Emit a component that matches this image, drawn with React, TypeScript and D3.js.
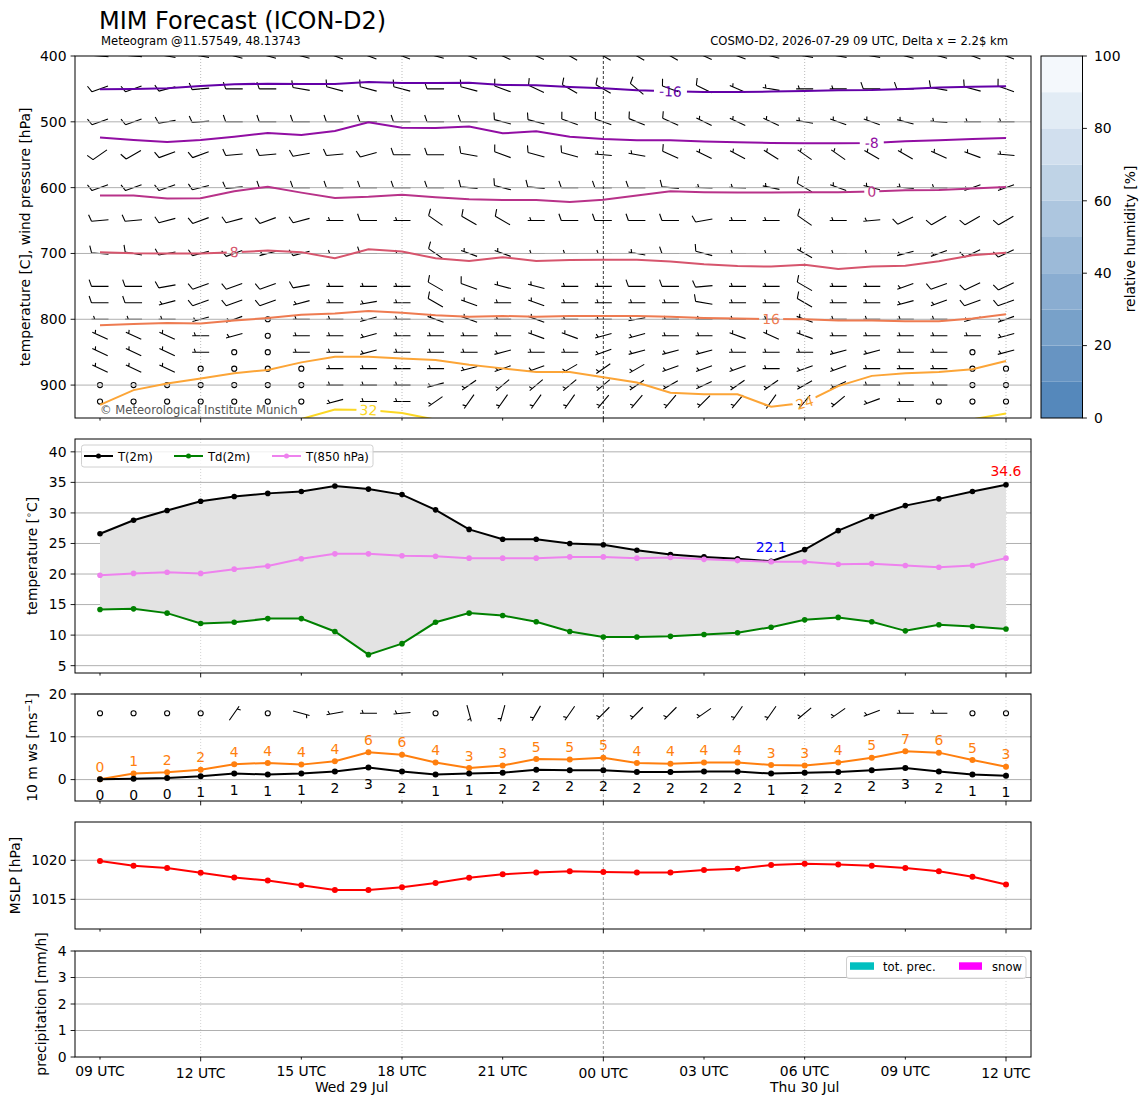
import * as d3 from 'd3';
import React from 'react';

// forecast run, hourly steps
const runStart = new Date(Date.UTC(2026, 6, 29, 9));

// 2 m temperature, dew point and 850 hPa temperature [C]
const t2m = [26.6, 28.8, 30.4, 31.9, 32.7, 33.2, 33.5, 34.4, 33.9, 33.0, 30.5, 27.3, 25.7, 25.7, 25.0, 24.8, 23.9, 23.2, 22.8, 22.5, 22.1, 24.0, 27.1, 29.4, 31.2, 32.3, 33.5, 34.6];
const td2m = [14.2, 14.3, 13.6, 11.9, 12.1, 12.7, 12.7, 10.6, 6.8, 8.6, 12.1, 13.6, 13.2, 12.2, 10.6, 9.7, 9.7, 9.8, 10.1, 10.4, 11.3, 12.5, 12.9, 12.2, 10.7, 11.7, 11.4, 11.0];
const t850 = [19.8, 20.1, 20.3, 20.1, 20.8, 21.3, 22.5, 23.3, 23.3, 23.0, 22.9, 22.6, 22.6, 22.6, 22.8, 22.8, 22.6, 22.7, 22.4, 22.2, 22.0, 22.0, 21.6, 21.7, 21.4, 21.1, 21.4, 22.6];

// 10 m wind speed / gusts [m/s], direction [deg]
const ws10 = [0.1, 0.2, 0.4, 0.8, 1.4, 1.2, 1.4, 1.9, 2.8, 1.9, 1.2, 1.4, 1.6, 2.3, 2.2, 2.2, 1.8, 1.8, 1.9, 1.9, 1.4, 1.6, 1.8, 2.2, 2.7, 1.9, 1.2, 0.9];
const gust10 = [0.1, 1.4, 1.7, 2.3, 3.6, 3.9, 3.5, 4.3, 6.4, 5.8, 4.0, 2.7, 3.3, 4.8, 4.7, 5.1, 3.9, 3.7, 4.0, 4.0, 3.4, 3.3, 4.0, 5.1, 6.6, 6.3, 4.6, 3.0];
const wdir10 = [0, 0, 0, 0, 35, 0, 105, 260, 270, 265, 0, 165, 195, 210, 215, 225, 225, 225, 235, 215, 215, 230, 235, 250, 270, 270, 0, 0];

// mean sea level pressure [hPa]
const mslp = [1019.9, 1019.3, 1019.0, 1018.4, 1017.8, 1017.4, 1016.8, 1016.2, 1016.2, 1016.55, 1017.1, 1017.75, 1018.2, 1018.45, 1018.6, 1018.5, 1018.45, 1018.45, 1018.75, 1018.9, 1019.4, 1019.55, 1019.45, 1019.3, 1019.0, 1018.6, 1017.9, 1016.9];

// precipitation [mm/h]
const totPrec = [0, 0, 0, 0, 0, 0, 0, 0, 0, 0, 0, 0, 0, 0, 0, 0, 0, 0, 0, 0, 0, 0, 0, 0, 0, 0, 0, 0];
const snowPrec = [0, 0, 0, 0, 0, 0, 0, 0, 0, 0, 0, 0, 0, 0, 0, 0, 0, 0, 0, 0, 0, 0, 0, 0, 0, 0, 0, 0];

// isotherms: pressure [hPa] of each level at every step
const isoM16 = [450.6, 450, 449, 445.6, 443, 442, 442.6, 442.6, 439.5, 441, 441, 440.5, 444, 444.6, 447, 449, 452, 453.7, 454.7, 454.7, 454, 453, 452, 451.7, 450, 448, 446.6, 446];
const isoM8 = [524, 527.6, 530.7, 527.6, 522.6, 517, 520, 514, 500.8, 509, 509.4, 507, 517.5, 514.5, 522.6, 526, 528, 528, 530, 531, 532, 532.6, 532.6, 532, 529.6, 528, 526, 524.6];
const iso0 = [612, 612, 616.6, 616, 605.6, 598.5, 607.6, 615.7, 614, 611, 614.7, 617.7, 618.7, 618.7, 621.8, 618.5, 612, 605.6, 607, 607.4, 607.4, 607, 607, 606, 604, 603.6, 601.5, 599];
const iso8 = [698, 699.8, 700, 700, 698, 695.7, 698, 707.4, 693.7, 697, 707.4, 711.5, 705.8, 711.5, 710, 709.6, 709.4, 712.4, 716.4, 719, 720, 717, 723.6, 720, 718.6, 711.9, 702.8, 698.8];
const iso16 = [809, 807, 805.7, 806.6, 802, 798, 793, 791.4, 787.4, 790, 794, 796, 795, 796, 795, 795, 795, 796, 798, 799, 799.6, 800, 802, 802, 803, 803, 799, 792.5];
const iso24 = [930, 907.6, 897.5, 890, 882, 877, 865.5, 857, 857, 859.6, 862, 869, 874.6, 880, 880, 888, 896, 911.6, 914, 914, 933, 926.7, 901.5, 886, 882, 880, 876, 863.5];
const iso32 = [975, 972, 970, 968, 965, 960, 951.5, 937, 938, 942.5, 952.5, 960, 965, 968, 970, 972, 972, 972, 972, 972, 972, 972, 970, 968, 965, 960, 952, 943];

// wind barbs on pressure levels: direction [deg] and speed [kt]
const barbLevels = [400, 450, 500, 550, 600, 650, 700, 750, 775, 800, 825, 850, 875, 900, 925];
const barbDir = [
	[275, 275, 280, 280, 285, 285, 285, 290, 290, 290, 285, 290, 295, 295, 300, 300, 300, 300, 295, 290, 285, 280, 280, 280, 285, 285, 290, 290],
	[250, 250, 255, 265, 270, 270, 280, 285, 285, 285, 270, 285, 290, 295, 300, 300, 310, 290, 296, 294, 280, 270, 270, 270, 270, 280, 285, 290],
	[250, 250, 260, 265, 270, 270, 270, 270, 270, 270, 270, 270, 285, 285, 290, 290, 292, 294, 296, 295, 295, 280, 290, 290, 285, 275, 270, 270],
	[235, 240, 250, 250, 265, 265, 260, 265, 255, 270, 270, 280, 290, 285, 285, 275, 280, 294, 296, 298, 302, 305, 305, 300, 300, 295, 290, 275],
	[250, 250, 250, 255, 265, 270, 270, 270, 270, 270, 270, 275, 285, 275, 270, 270, 270, 275, 272, 272, 282, 300, 290, 285, 275, 270, 250, 250],
	[265, 265, 255, 250, 255, 250, 255, 270, 270, 270, 305, 300, 300, 270, 270, 270, 270, 270, 260, 270, 270, 305, 270, 265, 245, 240, 240, 240],
	[275, 280, 260, 255, 250, 255, 255, 270, 270, 270, 305, 290, 290, 270, 270, 270, 280, 270, 285, 270, 270, 300, 270, 270, 255, 250, 245, 245],
	[270, 270, 260, 250, 250, 250, 260, 270, 270, 270, 300, 290, 285, 285, 270, 270, 270, 270, 265, 270, 270, 300, 270, 270, 250, 250, 245, 245],
	[270, 270, 255, 250, 250, 250, 255, 270, 260, 270, 300, 290, 270, 290, 270, 270, 270, 270, 280, 270, 270, 300, 270, 270, 255, 250, 250, 250],
	[270, 270, 270, 255, 250, 0, 270, 270, 255, 270, 290, 290, 270, 290, 270, 270, 260, 270, 270, 270, 270, 290, 270, 270, 270, 270, 255, 250],
	[295, 295, 295, 270, 255, 0, 270, 270, 255, 270, 270, 270, 270, 290, 290, 255, 255, 270, 270, 290, 295, 290, 270, 270, 270, 270, 270, 255],
	[295, 295, 295, 270, 0, 0, 270, 270, 255, 270, 270, 270, 255, 270, 270, 250, 255, 255, 255, 270, 270, 270, 255, 255, 270, 270, 0, 255],
	[295, 295, 295, 0, 0, 0, 0, 270, 270, 270, 270, 255, 250, 250, 240, 235, 240, 250, 250, 250, 270, 250, 250, 270, 270, 270, 0, 0],
	[0, 0, 0, 0, 0, 0, 0, 270, 270, 270, 255, 235, 230, 230, 230, 230, 235, 240, 245, 235, 235, 240, 245, 270, 270, 270, 0, 0],
	[0, 0, 0, 0, 0, 0, 0, 255, 270, 270, 235, 215, 215, 215, 215, 220, 220, 220, 225, 220, 215, 220, 230, 250, 270, 0, 0, 0],
];
const barbKt = [
	[10, 10, 10, 10, 10, 10, 10, 10, 10, 10, 10, 10, 10, 10, 10, 10, 10, 10, 10, 10, 10, 10, 10, 10, 10, 10, 10, 10],
	[10, 10, 10, 10, 10, 10, 10, 10, 10, 10, 10, 10, 10, 10, 10, 10, 10, 10, 10, 5, 5, 5, 5, 10, 10, 10, 10, 10],
	[10, 10, 10, 10, 10, 10, 10, 10, 10, 10, 10, 10, 10, 10, 10, 10, 10, 10, 5, 5, 5, 5, 5, 5, 5, 5, 5, 5],
	[10, 10, 10, 10, 10, 10, 10, 10, 10, 10, 10, 10, 10, 10, 10, 5, 5, 10, 5, 5, 5, 5, 5, 5, 5, 5, 5, 5],
	[10, 10, 10, 10, 10, 10, 10, 10, 10, 10, 10, 10, 10, 10, 10, 10, 10, 10, 5, 5, 5, 10, 5, 5, 5, 5, 5, 5],
	[10, 10, 10, 10, 10, 10, 10, 5, 10, 5, 10, 10, 10, 5, 10, 10, 10, 10, 10, 5, 5, 10, 5, 5, 10, 10, 10, 10],
	[10, 10, 10, 10, 10, 5, 10, 5, 10, 5, 10, 5, 5, 5, 5, 5, 5, 10, 10, 5, 5, 5, 5, 5, 5, 5, 10, 10],
	[10, 10, 10, 10, 10, 10, 10, 5, 5, 5, 10, 10, 5, 5, 5, 5, 10, 10, 10, 5, 5, 10, 5, 5, 5, 10, 10, 10],
	[10, 10, 5, 10, 10, 10, 5, 5, 5, 5, 10, 5, 5, 5, 5, 5, 5, 5, 10, 5, 5, 10, 5, 5, 5, 5, 10, 10],
	[5, 5, 5, 5, 5, 0, 5, 5, 5, 5, 5, 5, 5, 5, 5, 5, 5, 5, 5, 5, 5, 5, 5, 5, 5, 5, 5, 5],
	[5, 5, 5, 5, 5, 0, 5, 5, 5, 5, 5, 5, 5, 5, 5, 5, 5, 5, 5, 5, 5, 5, 5, 5, 5, 5, 5, 5],
	[5, 5, 5, 5, 0, 0, 5, 5, 5, 5, 5, 5, 5, 5, 5, 5, 5, 5, 5, 5, 5, 5, 5, 5, 5, 5, 0, 5],
	[5, 5, 5, 0, 0, 0, 0, 5, 5, 5, 5, 5, 5, 5, 5, 5, 5, 5, 5, 5, 5, 5, 5, 5, 5, 5, 0, 0],
	[0, 0, 0, 0, 0, 0, 0, 5, 5, 5, 5, 5, 5, 5, 5, 5, 5, 5, 5, 5, 5, 5, 5, 5, 5, 5, 0, 0],
	[0, 0, 0, 0, 0, 0, 0, 5, 5, 5, 5, 5, 5, 5, 5, 5, 5, 5, 5, 5, 5, 5, 5, 5, 5, 0, 0, 0],
];

const rhTicks = [0, 20, 40, 60, 80, 100];
const rhBands = [0, 10, 20, 30, 40, 50, 60, 70, 80, 90];

const width = 1148;
const height = 1105;
const left = 75;
const right = 1031;
const barbLen = 17;
const tickFont = 13.9;
const smallFont = 11.6;
const font = "'DejaVu Sans', sans-serif";

const pUpper = { top: 56, bottom: 418 };
const pTemp = { top: 439, bottom: 673 };
const pWind = { top: 694, bottom: 801 };
const pMslp = { top: 822, bottom: 929 };
const pPrec = { top: 951, bottom: 1057 };

// returns path for a wind barb (pivot middle), null for calm
function barbPath(cx: number, cy: number, dir: number, kt: number): string | null {
	const r = Math.round(kt / 5) * 5;
	if (r < 5) return null;
	const th = (dir * Math.PI) / 180;
	const fx = Math.sin(th);
	const fy = -Math.cos(th);
	const lx = -fy;
	const ly = fx;
	const L = barbLen;
	const ex = cx + (fx * L) / 2;
	const ey = cy + (fy * L) / 2;
	let d = `M${cx - (fx * L) / 2},${cy - (fy * L) / 2}L${ex},${ey}`;
	let rest = r;
	const full = Math.floor(rest / 10);
	rest -= full * 10;
	const half = rest >= 5;
	let o = 0;
	for (let k = 0; k < full; k++) {
		const px = ex - fx * o;
		const py = ey - fy * o;
		d += `M${px},${py}L${px + lx * 0.4 * L + fx * 0.14 * L},${py + ly * 0.4 * L + fy * 0.14 * L}`;
		o += 0.15 * L;
	}
	if (half) {
		if (o === 0) o = 0.19 * L;
		const px = ex - fx * o;
		const py = ey - fy * o;
		d += `M${px},${py}L${px + lx * 0.2 * L + fx * 0.07 * L},${py + ly * 0.2 * L + fy * 0.07 * L}`;
	}
	return d;
}

interface BarbItem {
	cx: number;
	cy: number;
	dir: number;
	kt: number;
}

const Barbs = ({ items }: { items: BarbItem[] }) => {
	let d = '';
	const calm: BarbItem[] = [];
	items.forEach(b => {
		const p = barbPath(b.cx, b.cy, b.dir, b.kt);
		if (p === null) calm.push(b);
		else d += p;
	});
	return (
		<g>
			<path d={d} stroke="#000" strokeWidth={1.1} fill="none" />
			{calm.map((b, i) => (
				<circle key={i} cx={b.cx} cy={b.cy} r={0.15 * barbLen} fill="none" stroke="#000" strokeWidth={1.1} />
			))}
		</g>
	);
};

const App = () => {
	const times = t2m.map((_, i) => d3.utcHour.offset(runStart, i));
	const x = d3.scaleUtc().domain([times[0], times[times.length - 1]]).range([100, 1006]);
	const xi = (i: number) => x(times[i]);
	const timeTicks = x.ticks(d3.utcHour.every(3) as d3.TimeInterval);

	const yP = d3.scaleLinear().domain([400, 950]).range([pUpper.top, pUpper.bottom]);
	const yT = d3
		.scaleLinear()
		.domain([(d3.min(td2m) as number) - 3, (d3.max(t2m) as number) + 7.5])
		.range([pTemp.bottom, pTemp.top]);
	const yW = d3.scaleLinear().domain([-5, 20]).range([pWind.bottom, pWind.top]);
	const yM = d3
		.scaleLinear()
		.domain([(d3.min(mslp) as number) - 5, (d3.max(mslp) as number) + 5])
		.range([pMslp.bottom, pMslp.top]);
	const yR = d3.scaleLinear().domain([0, 4]).range([pPrec.bottom, pPrec.top]);
	const yCb = d3.scaleLinear().domain([0, 100]).range([pUpper.bottom, pUpper.top]);

	const isoColor = d3.scaleLinear().domain([-16, 32]).range([0.18, 0.92]);
	const isotherms = [
		{ level: -16, p: isoM16, at: 17 },
		{ level: -8, p: isoM8, at: 23 },
		{ level: 0, p: iso0, at: 23 },
		{ level: 8, p: iso8, at: 4 },
		{ level: 16, p: iso16, at: 20 },
		{ level: 24, p: iso24, at: 21 },
		{ level: 32, p: iso32, at: 8 },
	];
	const isoLine = d3
		.line<number>()
		.x((_, i) => xi(i))
		.y(p => yP(p));
	const labelAngle = (p: number[], i: number) =>
		(Math.atan2(yP(p[i + 1]) - yP(p[i - 1]), xi(i + 1) - xi(i - 1)) * 180) / Math.PI;

	const upperBarbs: BarbItem[] = [];
	barbLevels.forEach((lev, j) => {
		barbDir[j].forEach((dir, i) => {
			upperBarbs.push({ cx: xi(i), cy: yP(lev), dir, kt: barbKt[j][i] });
		});
	});
	const sfcBarbs: BarbItem[] = ws10.map((w, i) => ({ cx: xi(i), cy: yW(15.5), dir: wdir10[i], kt: w * 1.944 }));

	const lineOf = (ys: number[], sc: d3.ScaleLinear<number, number>) =>
		d3
			.line<number>()
			.x((_, i) => xi(i))
			.y(v => sc(v))(ys) as string;
	const fillArea = d3
		.area<number>()
		.x((_, i) => xi(i))
		.y0((_, i) => yT(td2m[i]))
		.y1(v => yT(v))(t2m) as string;

	const cbColor = d3.interpolateRgb('#5588bb', '#f4f8fc');

	const iMax = d3.maxIndex(t2m);
	const iMin = d3.minIndex(t2m);

	const allPanels = [pUpper, pTemp, pWind, pMslp, pPrec];

	const vLines = (pn: { top: number; bottom: number }, upper: boolean) =>
		timeTicks
			.filter(t => t.getUTCHours() % 6 === 0)
			.map(t => {
				const midnight = t.getUTCHours() === 0;
				return (
					<line
						key={+t}
						x1={x(t)}
						x2={x(t)}
						y1={pn.top}
						y2={pn.bottom}
						stroke={midnight ? (upper ? '#000' : '#888') : upper ? '#aaa' : '#c8c8c8'}
						strokeWidth={0.8}
						strokeDasharray={midnight ? '3,2' : '1,2'}
					/>
				);
			});

	const hGrid = (ticks: number[], sc: d3.ScaleLinear<number, number>) =>
		ticks.map(t => (
			<line key={t} x1={left} x2={right} y1={sc(t)} y2={sc(t)} stroke="#b0b0b0" strokeWidth={1} />
		));

	const yAxis = (ticks: number[], sc: d3.ScaleLinear<number, number>) =>
		ticks.map(t => (
			<g key={t} transform={`translate(0,${sc(t)})`}>
				<line x1={left - 4.4} x2={left} stroke="#000" strokeWidth={0.9} />
				<text x={left - 8.5} dy="0.35em" textAnchor="end" fontSize={tickFont}>
					{t}
				</text>
			</g>
		));

	const frame = (pn: { top: number; bottom: number }) => (
		<rect x={left} y={pn.top} width={right - left} height={pn.bottom - pn.top} fill="none" stroke="#000" strokeWidth={1} />
	);

	const markers = (ys: number[], sc: d3.ScaleLinear<number, number>, color: string, r = 2.8) =>
		ys.map((v, i) => <circle key={i} cx={xi(i)} cy={sc(v)} r={r} fill={color} />);

	const midnight = timeTicks.find(t => t.getUTCHours() === 0) as Date;
	const dayLabels = [
		{ pos: (x(times[0]) + x(midnight)) / 2, date: times[0] },
		{ pos: (x(midnight) + x(times[times.length - 1])) / 2, date: midnight },
	];

	return (
		<svg
			width={width}
			height={height}
			style={{ position: 'absolute', left: 0, top: 0, background: '#fff' }}
			fontFamily={font}
		>
			<rect width={width} height={height} fill="#fff" />
			<defs>
				<clipPath id="clipUpper">
					<rect x={left} y={pUpper.top} width={right - left} height={pUpper.bottom - pUpper.top} />
				</clipPath>
				{isotherms.map((iso, k) => {
					const i = iso.at;
					const w = String(iso.level).length * 9 + 6;
					return (
						<mask key={k} id={`iso${k}`} maskUnits="userSpaceOnUse" x={0} y={0} width={width} height={height}>
							<rect x={0} y={0} width={width} height={height} fill="#fff" />
							<rect
								x={-w / 2}
								y={-8}
								width={w}
								height={16}
								fill="#000"
								transform={`translate(${xi(i)},${yP(iso.p[i])}) rotate(${labelAngle(iso.p, i)})`}
							/>
						</mask>
					);
				})}
			</defs>

			{/* titles */}
			<text x={99} y={29} fontSize={24}>
				MIM Forecast (ICON-D2)
			</text>
			<text x={101} y={45} fontSize={smallFont}>
				Meteogram @11.57549, 48.13743
			</text>
			<text x={1008} y={45} fontSize={smallFont} textAnchor="end">
				COSMO-D2, 2026-07-29 09 UTC, Delta x = 2.2$ km
			</text>

			{/* upper air panel */}
			<g clipPath="url(#clipUpper)">
				<Barbs items={upperBarbs} />
			</g>
			{hGrid([500, 600, 700, 800, 900], yP)}
			{vLines(pUpper, true)}
			<g clipPath="url(#clipUpper)">
				{isotherms.map((iso, k) => {
					const c = d3.interpolatePlasma(isoColor(iso.level));
					const i = iso.at;
					return (
						<g key={iso.level}>
							<path d={isoLine(iso.p) as string} fill="none" stroke={c} strokeWidth={2} mask={`url(#iso${k})`} />
							<text
								transform={`translate(${xi(i)},${yP(iso.p[i])}) rotate(${labelAngle(iso.p, i)})`}
								dy="0.36em"
								textAnchor="middle"
								fontSize={tickFont}
								fill={c}
							>
								{iso.level}
							</text>
						</g>
					);
				})}
			</g>
			<text x={100} y={414} fontSize={smallFont} fill="#555">
				© Meteorological Institute Munich
			</text>
			{yAxis([400, 500, 600, 700, 800, 900], yP)}
			<text transform={`translate(30,${(pUpper.top + pUpper.bottom) / 2}) rotate(-90)`} textAnchor="middle" fontSize={tickFont}>
				temperature [C], wind pressure [hPa]
			</text>

			{/* relative humidity colour bar */}
			{rhBands.map(b => (
				<rect
					key={b}
					x={1041}
					y={yCb(b + 10)}
					width={41.5}
					height={yCb(b) - yCb(b + 10)}
					fill={cbColor(b / 90)}
				/>
			))}
			<rect x={1041} y={pUpper.top} width={41.5} height={pUpper.bottom - pUpper.top} fill="none" stroke="#000" strokeWidth={1} />
			{rhTicks.map(t => (
				<g key={t} transform={`translate(1082.5,${yCb(t)})`}>
					<line x2={4.4} stroke="#000" strokeWidth={0.9} />
					<text x={11.5} dy="0.35em" fontSize={tickFont}>
						{t}
					</text>
				</g>
			))}
			<text transform={`translate(1135,${(pUpper.top + pUpper.bottom) / 2 + 2}) rotate(-90)`} textAnchor="middle" fontSize={tickFont}>
				relative humidity [%]
			</text>

			{/* temperature panel */}
			{hGrid([5, 10, 15, 20, 25, 30, 35, 40], yT)}
			{vLines(pTemp, false)}
			<path d={fillArea} fill="#e3e3e3" />
			<path d={lineOf(t2m, yT)} fill="none" stroke="#000" strokeWidth={2} />
			{markers(t2m, yT, '#000')}
			<path d={lineOf(td2m, yT)} fill="none" stroke="#008000" strokeWidth={2} />
			{markers(td2m, yT, '#008000')}
			<path d={lineOf(t850, yT)} fill="none" stroke="#ee82ee" strokeWidth={2} />
			{markers(t850, yT, '#ee82ee')}
			<text x={xi(iMax)} y={yT(t2m[iMax] + 1) - 3} textAnchor="middle" fontSize={tickFont} fill="#f00">
				{t2m[iMax].toFixed(1)}
			</text>
			<text x={xi(iMin)} y={yT(t2m[iMin] + 1) - 3} textAnchor="middle" fontSize={tickFont} fill="#00f">
				{t2m[iMin].toFixed(1)}
			</text>
			<g>
				<rect x={81.5} y={445} width={291.5} height={22} rx={2.5} fill="#fff" fillOpacity={0.8} stroke="#d0d0d0" />
				{[
					{ name: 'T(2m)', color: '#000', x0: 84 },
					{ name: 'Td(2m)', color: '#008000', x0: 174 },
					{ name: 'T(850 hPa)', color: '#ee82ee', x0: 272 },
				].map(e => (
					<g key={e.name}>
						<line x1={e.x0} x2={e.x0 + 29} y1={456} y2={456} stroke={e.color} strokeWidth={2} />
						<circle cx={e.x0 + 14.5} cy={456} r={2.5} fill={e.color} />
						<text x={e.x0 + 34} y={460.5} fontSize={smallFont}>
							{e.name}
						</text>
					</g>
				))}
			</g>
			{yAxis([5, 10, 15, 20, 25, 30, 35, 40], yT)}
			<text transform={`translate(37,${(pTemp.top + pTemp.bottom) / 2}) rotate(-90)`} textAnchor="middle" fontSize={tickFont}>
				temperature [
				<tspan fontSize={9.5} dy={-5}>
					∘
				</tspan>
				<tspan dy={5}>C]</tspan>
			</text>

			{/* 10 m wind panel */}
			{hGrid([0, 10, 20], yW)}
			{vLines(pWind, false)}
			<Barbs items={sfcBarbs} />
			<path d={lineOf(gust10, yW)} fill="none" stroke="#ff7f0e" strokeWidth={2} />
			{markers(gust10, yW, '#ff7f0e', 3)}
			<path d={lineOf(ws10, yW)} fill="none" stroke="#000" strokeWidth={2} />
			{markers(ws10, yW, '#000', 3)}
			{gust10.map((v, i) => (
				<text key={`g${i}`} x={xi(i)} y={yW(v + 1) - 3} textAnchor="middle" fontSize={tickFont} fill="#ff7f0e">
					{Math.round(v)}
				</text>
			))}
			{ws10.map((v, i) => (
				<text key={`w${i}`} x={xi(i)} y={yW(v - 2) + 12.5} textAnchor="middle" fontSize={tickFont} fill="#000">
					{Math.round(v)}
				</text>
			))}
			{yAxis([0, 10, 20], yW)}
			<text transform={`translate(37,${(pWind.top + pWind.bottom) / 2}) rotate(-90)`} textAnchor="middle" fontSize={tickFont}>
				10 m ws [ms
				<tspan fontSize={9.5} dy={-5}>
					−1
				</tspan>
				<tspan dy={5}>]</tspan>
			</text>

			{/* MSLP panel */}
			{hGrid([1015, 1020], yM)}
			{vLines(pMslp, false)}
			<path d={lineOf(mslp, yM)} fill="none" stroke="#f00" strokeWidth={2} />
			{markers(mslp, yM, '#f00', 3)}
			{yAxis([1015, 1020], yM)}
			<text transform={`translate(20,${(pMslp.top + pMslp.bottom) / 2}) rotate(-90)`} textAnchor="middle" fontSize={tickFont}>
				MSLP [hPa]
			</text>

			{/* precipitation panel */}
			{hGrid([1, 2, 3], yR)}
			{vLines(pPrec, false)}
			{totPrec.map((v, i) => (
				<rect key={`p${i}`} x={xi(i) - 12} y={yR(v)} width={24} height={yR(0) - yR(v)} fill="#00bfbf" />
			))}
			{snowPrec.map((v, i) => (
				<rect key={`s${i}`} x={xi(i) - 12} y={yR(v)} width={24} height={yR(0) - yR(v)} fill="#ff00ff" />
			))}
			<g>
				<rect x={846.5} y={956.5} width={179.5} height={22} rx={2.5} fill="#fff" fillOpacity={0.8} stroke="#d0d0d0" />
				<rect x={850} y={962.3} width={24} height={7.5} fill="#00bfbf" />
				<text x={883} y={970.5} fontSize={smallFont}>
					tot. prec.
				</text>
				<rect x={959} y={962.3} width={23} height={7.5} fill="#ff00ff" />
				<text x={992} y={970.5} fontSize={smallFont}>
					snow
				</text>
			</g>
			{yAxis([0, 1, 2, 3, 4], yR)}
			<text transform={`translate(46,${(pPrec.top + pPrec.bottom) / 2}) rotate(-90)`} textAnchor="middle" fontSize={tickFont}>
				precipitation [mm/h]
			</text>

			{/* frames and time ticks */}
			{allPanels.map((pn, k) => (
				<g key={k}>
					{frame(pn)}
					{timeTicks.map(t => {
						const major = t.getUTCHours() % 12 === 0;
						return (
							<line key={+t} x1={x(t)} x2={x(t)} y1={pn.bottom} y2={pn.bottom + (major ? 4.4 : 2.6)} stroke="#000" strokeWidth={0.9} />
						);
					})}
				</g>
			))}
			{timeTicks.map(t => {
				const major = t.getUTCHours() % 12 === 0;
				return (
					<text key={+t} x={x(t)} y={pPrec.bottom + (major ? 20.5 : 18.5)} textAnchor="middle" fontSize={tickFont}>
						{d3.utcFormat('%H UTC')(t)}
					</text>
				);
			})}
			{dayLabels.map(dl => (
				<text key={dl.pos} x={dl.pos} y={pPrec.bottom + 34.5} textAnchor="middle" fontSize={tickFont}>
					{d3.utcFormat('%a %d %b')(dl.date)}
				</text>
			))}
		</svg>
	);
};

export default App;
